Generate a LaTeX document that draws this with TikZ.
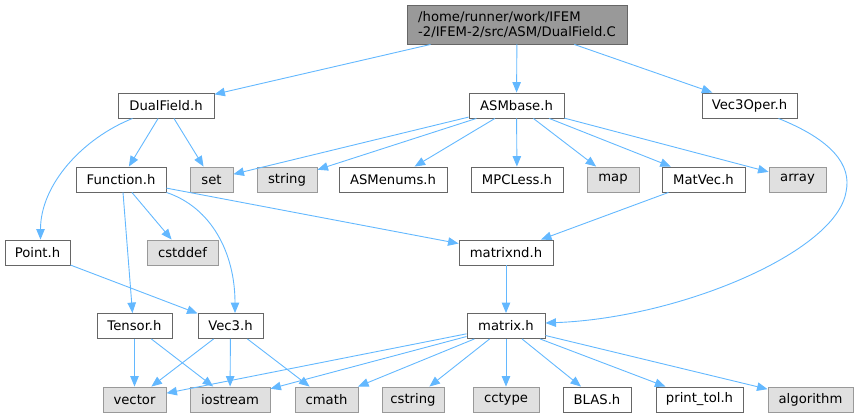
\documentclass[tikz,border=0pt]{standalone}
\usepackage{fontspec}
\setmainfont{DejaVu Sans}
\usetikzlibrary{arrows.meta}
\definecolor{edgec}{HTML}{63B8FF}
\definecolor{boxb}{HTML}{666666}
\definecolor{sysf}{HTML}{E0E0E0}
\definecolor{sysb}{HTML}{999999}
\definecolor{rootf}{HTML}{999999}
\tikzset{
  hdr/.style={draw=boxb, fill=white, line width=0.9pt, minimum height=25pt, inner sep=0pt, font=\fontsize{13.2}{15}\selectfont},
  sys/.style={hdr, draw=sysb, fill=sysf},
  rootbox/.style={hdr, fill=rootf, minimum height=39pt, align=left},
  edge/.style={draw=edgec, line width=0.9pt, -{Triangle[length=10.5pt,width=8.5pt]}}
}
\begin{document}
\begin{tikzpicture}[x=1pt,y=-1pt]
\useasboundingbox (0,0) rectangle (859,417);
\node[rootbox, minimum width=220pt] (root) at (517,24.5) {/home/runner/work/IFEM\\-2/IFEM-2/src/ASM/DualField.C};
\node[hdr, minimum width=96pt] (dual) at (166,105.5) {DualField.h};
\node[hdr, minimum width=95pt] (asm) at (516.5,105.5) {ASMbase.h};
\node[hdr, minimum width=95pt] (v3op) at (749.5,105.5) {Vec3Oper.h};
\node[hdr, minimum width=90pt] (func) at (121,179.5) {Function.h};
\node[sys, minimum width=43pt] (set) at (211.5,179.5) {set};
\node[sys, minimum width=60pt] (string) at (287,179.5) {string};
\node[hdr, minimum width=108pt] (enums) at (393,179.5) {ASMenums.h};
\node[hdr, minimum width=92pt] (mpc) at (517,179.5) {MPCLess.h};
\node[sys, minimum width=52pt] (map) at (613,179.5) {map};
\node[hdr, minimum width=83pt] (matvec) at (703.5,179.5) {MatVec.h};
\node[sys, minimum width=57pt] (array) at (797.5,179.5) {array};
\node[hdr, minimum width=65pt] (point) at (37.5,252.5) {Point.h};
\node[sys, minimum width=71pt] (cstddef) at (182.5,252.5) {cstddef};
\node[hdr, minimum width=94pt] (matnd) at (506,252.5) {matrixnd.h};
\node[hdr, minimum width=75pt] (tensor) at (134.5,326) {Tensor.h};
\node[hdr, minimum width=65pt] (vec3) at (230.5,326) {Vec3.h};
\node[hdr, minimum width=78pt] (matrix) at (506,326) {matrix.h};
\node[sys, minimum width=63pt] (vector) at (134.5,399.5) {vector};
\node[sys, minimum width=80pt] (iostream) at (230,399.5) {iostream};
\node[sys, minimum width=63pt] (cmath) at (326.5,399.5) {cmath};
\node[sys, minimum width=62pt] (cstring) at (413,399.5) {cstring};
\node[sys, minimum width=66pt] (cctype) at (506,399.5) {cctype};
\node[hdr, minimum width=68pt] (blas) at (597,399.5) {BLAS.h};
\node[hdr, minimum width=87pt] (ptol) at (699.5,399.5) {print\_tol.h};
\node[sys, minimum width=85pt] (algo) at (810.5,399.5) {algorithm};

\draw[edge] (root) -- (dual);
\draw[edge] (root) -- (asm);
\draw[edge] (root) -- (v3op);
\draw[edge] ([xshift=15pt]dual.south west) .. controls +(-50,20) and +(0,-55) .. ([xshift=3pt]point.north);
\draw[edge] (dual) -- (func);
\draw[edge] (dual) -- (set);
\foreach \t in {set,string,enums,mpc,map,matvec,array} \draw[edge] (asm) -- (\t);
\draw[edge] ([xshift=-19pt]v3op.south east) .. controls (832,140) and (852,165) .. (846,192) .. controls (836,252) and (680,318) .. ([yshift=3pt]matrix.east);
\draw[edge] ([xshift=2pt]func.south) -- ([xshift=-2pt]tensor.north);
\draw[edge] (func) -- (cstddef);
\draw[edge] (func.south east) .. controls +(45,15) and +(0,-60) .. ([xshift=4.5pt]vec3.north);
\draw[edge] (func) -- (matnd);
\draw[edge] (point) -- (vec3);
\draw[edge] (matvec) -- (matnd);
\draw[edge] (matnd) -- (matrix);
\draw[edge] (tensor) -- (vector);
\draw[edge] (tensor) -- (iostream);
\draw[edge] (vec3) -- (vector);
\draw[edge] (vec3) -- (iostream);
\draw[edge] (vec3) -- (cmath);
\foreach \t in {vector,iostream,cmath,cstring,cctype,blas,ptol,algo} \draw[edge] (matrix) -- (\t);
\end{tikzpicture}
\end{document}
